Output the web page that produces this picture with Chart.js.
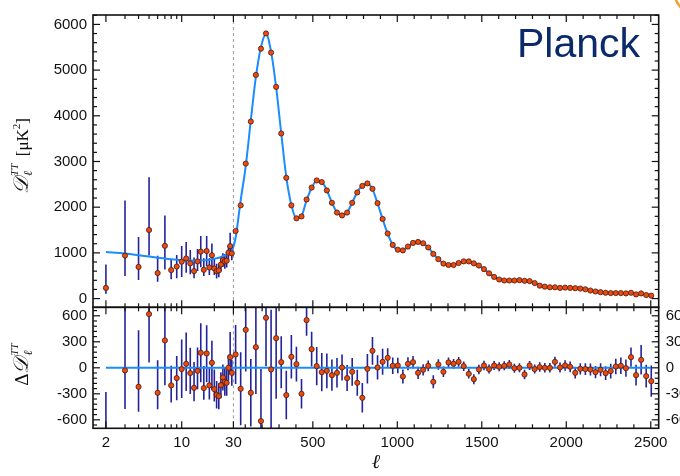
<!DOCTYPE html>
<html>
<head>
<meta charset="utf-8">
<script src="https://cdn.jsdelivr.net/npm/chart.js@4.4.1/dist/chart.umd.min.js"></script>
<style>
  html, body { margin: 0; padding: 0; background: #fff; }
  #wrap { position: relative; width: 680px; height: 476px; }
  #wrap canvas { position: absolute; left: 0; top: 0; }
</style>
</head>
<body>
<div id="wrap">
  <canvas id="spec" width="680" height="476"></canvas>
  <canvas id="resid" width="680" height="476"></canvas>
</div>
<script>
// ---- data ----
// low multipoles, one point per ell
const lowEll = [2,3,4,5,6,7,8,9,10,11,12,13,14,15,16,17,18,19,20,21,22,23,24,25,26,27,28,29];
const lowD = [234,941,693,1501,559,1154,623,701,807,878,771,601,814,1027,630,1041,680,948,659,601,616,744,842,814,829,1005,1148,990];
const lowErrMinus = [128,446,289,560,191,516,198,255,333,313,240,155,213,341,135,333,164,310,143,160,150,150,150,160,150,150,190,150];
const lowErrPlus = [510,1206,652,1156,376,666,227,255,341,361,292,298,270,340,254,326,204,255,225,160,150,150,150,160,150,150,290,150];
const lowModel = [1020,985,950,920,895,875,860,850,840,835,832,830,830,832,836,842,850,860,870,882,895,910,926,945,966,990,1016,1045];
const lowResid = [-790,-30,-219,620,-288,316,-203,-119,-15,46,-61,-231,-35,173,-234,166,-203,58,-246,-311,-327,-200,-111,-162,-173,0,123,-58];

// binned high multipoles
const binEll = [43,73,103,133,163,193,223,253,283,313,343,373,403,433,463,493,523,553,583,613,643,673,703,733,763,793,823,853,883,913,943,973,1003,1033,1063,1093,1123,1153,1183,1213,1243,1273,1303,1333,1363,1393,1423,1453,1483,1513,1543,1573,1603,1633,1663,1693,1723,1753,1783,1813,1843,1873,1903,1933,1963,1993,2023,2053,2083,2113,2143,2173,2203,2233,2263,2293,2323,2353,2383,2413,2443,2473,2503];
const binD = [1479,2040,2954,3875,4895,5469,5802,5384,4633,3613,
  2642,2040,1756,1798,2168,2429,2585,2550,2366,2096,
  1883,1819,1883,2096,2323,2465,2521,2402,2089,1743,
  1424,1175,1069,1054,1139,1218,1239,1211,1118,978,
  863,765,735,735,778,814,814,771,723,644,
  553,474,417,395,395,395,403,389,382,340,
  283,261,247,247,234,240,234,227,219,204,
  176,155,140,127,120,120,120,113,127,91,
  113,77,64];
const binModel = [1330,2150,2900,3900,4850,5500,5790,5400,4620,3620,
  2660,2050,1760,1810,2150,2420,2580,2555,2370,2100,
  1885,1820,1885,2100,2330,2475,2520,2395,2085,1740,
  1420,1175,1068,1060,1135,1212,1238,1210,1120,982,
  862,768,735,738,775,810,815,775,722,645,
  553,475,420,398,395,397,398,393,378,342,
  292,262,248,242,240,238,234,228,218,202,
  180,158,142,132,125,122,120,118,114,108,
  100,90,80];
const binResid = [154,-242,438,-288,238,-615,577,-19,342,65,
  -315,127,42,-300,550,215,19,-50,-35,-85,
  -58,4,-119,-46,-173,-346,-12,196,4,69,
  115,23,27,-100,46,65,-58,-23,23,-162,
  38,-46,62,46,69,19,-69,-131,-19,27,
  -15,27,12,23,38,-4,0,-77,27,-15,
  8,0,0,69,4,27,12,-58,-12,-15,
  -19,-50,-23,-62,-38,15,23,-4,123,-85,
  92,-96,-154];
const binResidErr = [340,420,480,390,540,600,560,690,700,300,
  280,250,200,170,180,200,220,220,200,180,
  170,150,150,160,150,170,170,160,140,150,
  110,95,90,80,75,70,70,65,62,75,
  60,60,58,56,56,55,55,58,55,55,
  52,52,52,52,52,52,52,55,52,52,
  55,55,55,58,58,60,62,65,65,68,
  70,72,75,80,85,90,95,100,110,120,
  170,130,180];

// axes
const xTicks = [2, 10, 30, 500, 1000, 1500, 2000, 2500];
const yTicksTop = [0, 1000, 2000, 3000, 4000, 5000, 6000];
const yTicksBottom = [-600, -300, 0, 300, 600];
const splitEll = 30;          // log below, linear above
const xMinEll = 1.52, xMaxEll = 2547;
const logShare = 0.2482;      // share of the width given to the log part

// ---- hybrid log / linear ell axis ----
function splitFrac(v) {
  if (v < splitEll) {
    return logShare * Math.log10(v / xMinEll) / Math.log10(splitEll / xMinEll);
  }
  return logShare + (1 - logShare) * (v - splitEll) / (xMaxEll - splitEll);
}

class SplitScale extends Chart.LinearScale {
  buildTicks() {
    return xTicks.map(v => ({ value: v }));
  }
  getPixelForValue(v) {
    return this.left + this.width * splitFrac(v);
  }
  getValueForPixel(p) {
    const f = (p - this.left) / this.width;
    if (f < logShare) {
      return xMinEll * Math.pow(splitEll / xMinEll, f / logShare);
    }
    return splitEll + (f - logShare) / (1 - logShare) * (xMaxEll - splitEll);
  }
}
SplitScale.id = 'split';
Chart.register(SplitScale);

// minor tick positions
const xMinor = [3, 4, 5, 6, 7, 8, 9, 20];
for (let v = 100; v < 2550; v += 100) {
  if (v % 500 !== 0) xMinor.push(v);
}
const yMinorTop = [];
for (let v = -200; v <= 6200; v += 200) {
  if (v % 1000 !== 0) yMinorTop.push(v);
}
const yMinorBottom = [];
for (let v = -660; v <= 660; v += 60) {
  if (v % 300 !== 0) yMinorBottom.push(v);
}

// ---- styles ----
const sans = "'Liberation Sans', Arial, sans-serif";
const serif = "'Liberation Serif', 'DejaVu Serif', serif";
const tickFont = { family: sans, size: 15 };
const curveBlue = '#1a8cff';
const pointFill = '#ec4a10';
const pointEdge = '#4a1c0c';
const barNavy = '#23239a';
const plainLabel = v => String(v);

function pts(xs, ys) {
  return xs.map((x, i) => ({ x: x, y: ys[i] }));
}

// error bars, drawn under the datasets
const errorBars = {
  id: 'errorBars',
  beforeDatasetsDraw(chart) {
    const { ctx, chartArea: a, scales } = chart;
    ctx.save();
    ctx.beginPath();
    ctx.rect(a.left, a.top, a.right - a.left, a.bottom - a.top);
    ctx.clip();
    // dashed split line
    const sx = scales.x.getPixelForValue(splitEll);
    ctx.strokeStyle = '#9a9a9a';
    ctx.lineWidth = 1;
    ctx.setLineDash([3, 3]);
    ctx.beginPath();
    ctx.moveTo(sx, a.top);
    ctx.lineTo(sx, a.bottom);
    ctx.stroke();
    ctx.setLineDash([]);

    ctx.strokeStyle = barNavy;
    ctx.lineWidth = 1.6;
    chart.data.datasets.forEach(ds => {
      if (!ds.errMinus) return;
      ds.data.forEach((p, i) => {
        const px = scales.x.getPixelForValue(p.x);
        const y1 = scales.y.getPixelForValue(p.y - ds.errMinus[i]);
        const y2 = scales.y.getPixelForValue(p.y + ds.errPlus[i]);
        ctx.beginPath();
        ctx.moveTo(px, y1);
        ctx.lineTo(px, y2);
        ctx.stroke();
      });
    });
    ctx.restore();
  }
};

// box and inward ticks, IDL style
const frameTicks = {
  id: 'frameTicks',
  afterDraw(chart, args, opts) {
    const { ctx, chartArea: a, scales } = chart;
    const tick = (x1, y1, x2, y2) => {
      ctx.beginPath();
      ctx.moveTo(x1, y1);
      ctx.lineTo(x2, y2);
      ctx.stroke();
    };
    ctx.save();
    ctx.strokeStyle = '#111';
    ctx.lineWidth = 1.2;
    xTicks.forEach(v => {
      const px = scales.x.getPixelForValue(v);
      tick(px, a.top, px, a.top + 7);
      tick(px, a.bottom, px, a.bottom - 7);
    });
    xMinor.forEach(v => {
      const px = scales.x.getPixelForValue(v);
      tick(px, a.top, px, a.top + 4);
      tick(px, a.bottom, px, a.bottom - 4);
    });
    opts.yMajor.forEach(v => {
      const py = scales.y.getPixelForValue(v);
      tick(a.left, py, a.left + 7, py);
      tick(a.right, py, a.right - 7, py);
    });
    opts.yMinor.forEach(v => {
      const py = scales.y.getPixelForValue(v);
      if (py < a.top || py > a.bottom) return;
      tick(a.left, py, a.left + 4, py);
      tick(a.right, py, a.right - 4, py);
    });
    ctx.lineWidth = 1.6;
    ctx.strokeRect(a.left, a.top, a.right - a.left, a.bottom - a.top);
    ctx.restore();
  }
};

// rotated axis title made of pieces (for sub/superscripts)
function drawRotatedTitle(ctx, cx, cy, groups) {
  ctx.save();
  ctx.translate(cx, cy);
  ctx.rotate(-Math.PI / 2);
  ctx.fillStyle = '#111';
  ctx.textBaseline = 'alphabetic';
  ctx.textAlign = 'left';
  const widths = groups.map(g => Math.max.apply(null, g.map(it => {
    ctx.font = it.f;
    return ctx.measureText(it.t).width;
  })));
  let x = -widths.reduce((s, w) => s + w, 0) / 2;
  groups.forEach((g, i) => {
    g.forEach(it => {
      ctx.font = it.f;
      ctx.fillText(it.t, x + (it.dx || 0), it.dy);
    });
    x += widths[i];
  });
  ctx.restore();
}

const topLabels = {
  id: 'topLabels',
  afterDraw(chart) {
    const ctx = chart.ctx;
    drawRotatedTitle(ctx, 28, 156, [
      [{ t: '𝒟', f: 'italic 21px ' + serif, dy: 0 }],
      [{ t: 'TT', f: 'italic 11px ' + serif, dy: -10, dx: 1 }, { t: 'ℓ', f: 'italic 12px ' + serif, dy: 4, dx: 1 }],
      [{ t: '  [μK', f: '17px ' + serif, dy: 0 }],
      [{ t: '2', f: '11px ' + serif, dy: -8 }],
      [{ t: ']', f: '17px ' + serif, dy: 0 }]
    ]);
    ctx.save();
    ctx.fillStyle = '#0b2a6b';
    ctx.font = '41px ' + sans;
    ctx.textAlign = 'right';
    ctx.textBaseline = 'alphabetic';
    ctx.fillText('Planck', 640, 57);
    // corner of the logo
    ctx.strokeStyle = '#f2a12e';
    ctx.lineWidth = 2.5;
    ctx.beginPath();
    ctx.arc(700, -10, 26, Math.PI * 0.55, Math.PI * 0.95);
    ctx.stroke();
    ctx.restore();
  }
};

const bottomLabels = {
  id: 'bottomLabels',
  afterDraw(chart) {
    const ctx = chart.ctx;
    const a = chart.chartArea;
    drawRotatedTitle(ctx, 28, 365, [
      [{ t: 'Δ', f: '19px ' + serif, dy: 0 }],
      [{ t: '𝒟', f: 'italic 21px ' + serif, dy: 0 }],
      [{ t: 'TT', f: 'italic 11px ' + serif, dy: -10, dx: 1 }, { t: 'ℓ', f: 'italic 12px ' + serif, dy: 4, dx: 1 }]
    ]);
    ctx.save();
    ctx.fillStyle = '#111';
    ctx.font = 'italic 20px ' + serif;
    ctx.textAlign = 'center';
    ctx.textBaseline = 'middle';
    ctx.fillText('ℓ', (a.left + a.right) / 2, 463);
    ctx.restore();
  }
};

const pointStyle = {
  showLine: false,
  pointRadius: 2.6,
  pointBorderWidth: 0.8,
  backgroundColor: pointFill,
  borderColor: pointEdge,
  order: 0
};

// ---- top panel: spectrum ----
new Chart(document.getElementById('spec'), {
  type: 'scatter',
  data: {
    datasets: [
      Object.assign({ label: 'low ell', data: pts(lowEll, lowD), errMinus: lowErrMinus, errPlus: lowErrPlus }, pointStyle),
      Object.assign({ label: 'binned', data: pts(binEll, binD) }, pointStyle),
      {
        label: 'model',
        data: pts(lowEll.concat(binEll), lowModel.concat(binModel)),
        showLine: true,
        pointRadius: 0,
        borderColor: curveBlue,
        borderWidth: 2,
        cubicInterpolationMode: 'monotone',
        order: 2
      }
    ]
  },
  options: {
    responsive: false,
    animation: false,
    events: [],
    layout: { padding: { top: 6, right: 21.3, bottom: 168.7, left: 0 } },
    plugins: {
      legend: { display: false },
      tooltip: { enabled: false },
      frameTicks: { yMajor: yTicksTop, yMinor: yMinorTop }
    },
    scales: {
      x: { type: 'split', min: xMinEll, max: xMaxEll, display: false },
      y: {
        min: -191, max: 6206,
        afterBuildTicks: s => { s.ticks = yTicksTop.map(v => ({ value: v })); },
        afterFit: s => { s.width = 93; },
        grid: { display: false, drawTicks: false },
        border: { display: false },
        ticks: { font: tickFont, color: '#111', padding: 6, callback: plainLabel }
      }
    }
  },
  plugins: [errorBars, frameTicks, topLabels]
});

// ---- bottom panel: residuals ----
new Chart(document.getElementById('resid'), {
  type: 'scatter',
  data: {
    datasets: [
      Object.assign({ label: 'low ell', data: pts(lowEll, lowResid), errMinus: lowErrMinus, errPlus: lowErrPlus }, pointStyle),
      Object.assign({ label: 'binned', data: pts(binEll, binResid), errMinus: binResidErr, errPlus: binResidErr }, pointStyle),
      {
        label: 'zero',
        data: pts([lowEll[0], binEll[binEll.length - 1]], [0, 0]),
        showLine: true,
        pointRadius: 0,
        borderColor: curveBlue,
        borderWidth: 2,
        order: 2
      }
    ]
  },
  options: {
    responsive: false,
    animation: false,
    events: [],
    layout: { padding: { top: 307.3, right: 0, bottom: 0, left: 0 } },
    plugins: {
      legend: { display: false },
      tooltip: { enabled: false },
      frameTicks: { yMajor: yTicksBottom, yMinor: yMinorBottom }
    },
    scales: {
      x: {
        type: 'split', min: xMinEll, max: xMaxEll,
        afterFit: s => { s.height = 47.7; },
        grid: { display: false, drawTicks: false },
        border: { display: false },
        ticks: {
          font: tickFont, color: '#111', padding: 6,
          autoSkip: false, maxRotation: 0,
          callback: plainLabel
        }
      },
      y: {
        min: -698, max: 698,
        afterBuildTicks: s => { s.ticks = yTicksBottom.map(v => ({ value: v })); },
        afterFit: s => { s.width = 93; },
        grid: { display: false, drawTicks: false },
        border: { display: false },
        ticks: { font: tickFont, color: '#111', padding: 6, callback: plainLabel }
      },
      yRight: {
        position: 'right',
        min: -698, max: 698,
        afterBuildTicks: s => { s.ticks = yTicksBottom.map(v => ({ value: v })); },
        afterFit: s => { s.width = 21.3; },
        grid: { display: false, drawTicks: false },
        border: { display: false },
        ticks: { font: tickFont, color: '#111', padding: 7, callback: plainLabel }
      }
    }
  },
  plugins: [errorBars, frameTicks, bottomLabels]
});
</script>
</body>
</html>
